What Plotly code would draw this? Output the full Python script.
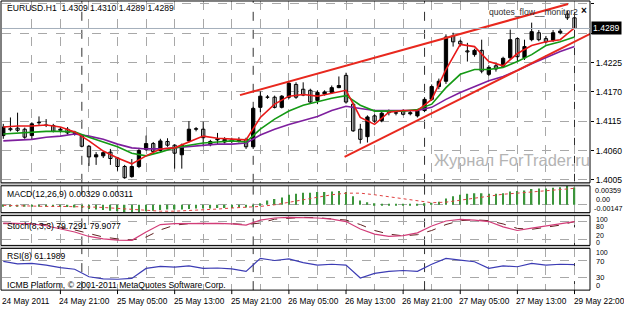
import plotly.graph_objects as go

W, H = 624, 310
FONT = "Liberation Sans, Arial, sans-serif"
FS = 8.6

# ---------------- data ----------------
bar_idx = list(range(81))
opens = [1.4088, 1.4101, 1.4102, 1.4100, 1.4088, 1.4112, 1.4108, 1.4107, 1.4098, 1.4100,
         1.4094, 1.4087, 1.4068, 1.4048, 1.4050, 1.4057, 1.4046, 1.4030, 1.4011, 1.4030,
         1.4062, 1.4073, 1.4060, 1.4077, 1.4070, 1.4052, 1.4078, 1.4100, 1.4100, 1.4071,
         1.4080, 1.4076, 1.4080, 1.4078, 1.4081, 1.4067, 1.4141, 1.4160, 1.4160, 1.4141,
         1.4160, 1.4184, 1.4175, 1.4173, 1.4154, 1.4166, 1.4169, 1.4178, 1.4201, 1.4147,
         1.4100, 1.4086, 1.4125, 1.4116, 1.4131, 1.4131, 1.4135, 1.4129, 1.4125, 1.4135,
         1.4156, 1.4180, 1.4190, 1.4275, 1.4265, 1.4247, 1.4240, 1.4248, 1.4203, 1.4219,
         1.4218, 1.4234, 1.4270, 1.4234, 1.4268, 1.4281, 1.4270, 1.4267, 1.4281, 1.4316,
         1.4309]
highs = [1.4110, 1.4122, 1.4131, 1.4103, 1.4113, 1.4124, 1.4119, 1.4110, 1.4104, 1.4104,
         1.4097, 1.4090, 1.4070, 1.4057, 1.4058, 1.4063, 1.4048, 1.4033, 1.4044, 1.4065,
         1.4088, 1.4076, 1.4082, 1.4083, 1.4072, 1.4073, 1.4115, 1.4104, 1.4114, 1.4080,
         1.4093, 1.4085, 1.4084, 1.4085, 1.4084, 1.4142, 1.4171, 1.4164, 1.4163, 1.4164,
         1.4190, 1.4188, 1.4188, 1.4176, 1.4173, 1.4173, 1.4182, 1.4199, 1.4206, 1.4150,
         1.4110, 1.4126, 1.4128, 1.4135, 1.4137, 1.4136, 1.4137, 1.4135, 1.4137, 1.4160,
         1.4184, 1.4195, 1.4278, 1.4281, 1.4268, 1.4262, 1.4251, 1.4268, 1.4220, 1.4223,
         1.4236, 1.4287, 1.4272, 1.4268, 1.4300, 1.4286, 1.4275, 1.4286, 1.4290, 1.4322,
         1.4310]
lows = [1.4082, 1.4096, 1.4095, 1.4082, 1.4081, 1.4108, 1.4104, 1.4094, 1.4094, 1.4090,
        1.4088, 1.4066, 1.4031, 1.4033, 1.4046, 1.4033, 1.4022, 1.4007, 1.4009, 1.4027,
        1.4059, 1.4055, 1.4057, 1.4067, 1.4026, 1.4026, 1.4075, 1.4096, 1.4068, 1.4068,
        1.4072, 1.4073, 1.4074, 1.4075, 1.4063, 1.4063, 1.4132, 1.4157, 1.4139, 1.4139,
        1.4157, 1.4157, 1.4162, 1.4148, 1.4147, 1.4163, 1.4166, 1.4177, 1.4148, 1.4095,
        1.4073, 1.4075, 1.4112, 1.4113, 1.4126, 1.4126, 1.4126, 1.4126, 1.4122, 1.4132,
        1.4153, 1.4175, 1.4185, 1.4255, 1.4255, 1.4227, 1.4236, 1.4205, 1.4200, 1.4208,
        1.4215, 1.4230, 1.4227, 1.4230, 1.4265, 1.4265, 1.4261, 1.4264, 1.4278, 1.4305,
        1.4289]
closes = [1.4104, 1.4099, 1.4098, 1.4085, 1.4110, 1.4113, 1.4107, 1.4096, 1.4100, 1.4093,
          1.4092, 1.4068, 1.4048, 1.4052, 1.4056, 1.4045, 1.4030, 1.4009, 1.4030, 1.4060,
          1.4073, 1.4058, 1.4078, 1.4070, 1.4055, 1.4070, 1.4100, 1.4101, 1.4084, 1.4077,
          1.4082, 1.4081, 1.4078, 1.4080, 1.4067, 1.4139, 1.4162, 1.4160, 1.4141, 1.4162,
          1.4186, 1.4160, 1.4164, 1.4151, 1.4169, 1.4170, 1.4178, 1.4182, 1.4151, 1.4097,
          1.4081, 1.4123, 1.4115, 1.4130, 1.4132, 1.4130, 1.4128, 1.4131, 1.4134, 1.4156,
          1.4180, 1.4190, 1.4273, 1.4264, 1.4260, 1.4245, 1.4248, 1.4209, 1.4216, 1.4213,
          1.4233, 1.4268, 1.4236, 1.4255, 1.4283, 1.4268, 1.4264, 1.4281, 1.4284, 1.4309,
          1.4289]

ma_idx = list(range(0, 81, 2))
ma_fast = [1.4104, 1.4106, 1.4106, 1.4108, 1.4104, 1.4095, 1.4078, 1.4059, 1.4046, 1.4035,
           1.4050, 1.4063, 1.4065, 1.4076, 1.4087, 1.4083, 1.4081, 1.4080, 1.4122, 1.4147,
           1.4162, 1.4165, 1.4162, 1.4167, 1.4173, 1.4122, 1.4109, 1.4132, 1.4135, 1.4135,
           1.4156, 1.4212, 1.4259, 1.4255, 1.4227, 1.4219, 1.4242, 1.4257, 1.4264, 1.4268,
           1.4290]
ma_mid = [1.4091, 1.4093, 1.4095, 1.4096, 1.4096, 1.4095, 1.4085, 1.4076, 1.4067, 1.4055,
          1.4050, 1.4057, 1.4065, 1.4070, 1.4074, 1.4076, 1.4078, 1.4076, 1.4100, 1.4119,
          1.4134, 1.4145, 1.4152, 1.4158, 1.4163, 1.4145, 1.4134, 1.4134, 1.4134, 1.4137,
          1.4147, 1.4178, 1.4203, 1.4212, 1.4212, 1.4216, 1.4227, 1.4240, 1.4257, 1.4264,
          1.4273]
ma_slow = [1.4078, 1.4080, 1.4081, 1.4085, 1.4087, 1.4091, 1.4087, 1.4081, 1.4072, 1.4065,
           1.4063, 1.4063, 1.4065, 1.4068, 1.4070, 1.4072, 1.4072, 1.4074, 1.4089, 1.4100,
           1.4109, 1.4117, 1.4124, 1.4135, 1.4143, 1.4139, 1.4135, 1.4135, 1.4135, 1.4135,
           1.4141, 1.4156, 1.4169, 1.4180, 1.4191, 1.4199, 1.4210, 1.4223, 1.4234, 1.4246,
           1.4255]

trend_upper_x = [33.15, 79.1]
trend_upper_y = [1.4164, 1.4335]
trend_lower_x = [47.8, 82.2]
trend_lower_y = [1.4048, 1.4279]

macd_main = [-0.0002, -0.0002, -0.0003, -0.0003, -0.0003, -0.0003, -0.0003, -0.0004, -0.0004, -0.0004,
             -0.0005, -0.0006, -0.0008, -0.0009, -0.0010, -0.0011, -0.0012, -0.0014, -0.00147, -0.0014,
             -0.0012, -0.0011, -0.0010, -0.0009, -0.0009, -0.0009, -0.0008, -0.0007, -0.0007, -0.0007,
             -0.0006, -0.0006, -0.0006, -0.0005, -0.0005, -0.0002, 0.0003, 0.0008, 0.0011, 0.0014,
             0.0019, 0.0021, 0.0023, 0.0023, 0.0024, 0.0024, 0.0025, 0.0026, 0.0024, 0.0016,
             0.0008, 0.0005, 0.0003, 0.0002, 0.0002, 0.0002, 0.0002, 0.0002, 0.0002, 0.0003,
             0.0004, 0.0006, 0.0012, 0.0016, 0.0019, 0.0021, 0.0022, 0.0022, 0.0021, 0.0021,
             0.0022, 0.0025, 0.0026, 0.0027, 0.0030, 0.0031, 0.0031, 0.0032, 0.0033, 0.00359,
             0.00329]
macd_signal = [-0.0001, -0.0002, -0.0002, -0.0003, -0.0003, -0.0003, -0.0004, -0.0005, -0.0007, -0.0009,
               -0.0011, -0.0012, -0.0012, -0.0011, -0.0010, -0.0008, -0.0006, -0.0005, -0.0003, 0.0000,
               0.0005, 0.0010, 0.0015, 0.0019, 0.0022, 0.0022, 0.0019, 0.0015, 0.0011, 0.0007,
               0.0004, 0.0005, 0.0009, 0.0013, 0.0017, 0.0020, 0.0022, 0.0024, 0.0026, 0.0029,
               0.00311]

stoch_main = [75, 74, 72, 66, 55, 45, 30, 22, 18, 17, 45, 70, 73, 74, 75, 74, 72, 68, 85, 92,
              94, 94, 92, 88, 80, 55, 38, 30, 33, 42, 65, 82, 87, 85, 80, 62, 50, 58, 65, 72,
              79.7291]
stoch_signal = [73, 74, 73, 70, 62, 52, 40, 28, 22, 18, 28, 52, 68, 73, 74, 74, 73, 70, 75, 88,
                92, 94, 93, 90, 85, 70, 50, 38, 32, 36, 50, 70, 83, 86, 83, 72, 57, 54, 60, 68,
                79.9077]
rsi_vals = [69, 63, 64, 60, 54, 50, 32, 27, 26, 28, 52, 57, 55, 58, 52, 53, 51, 45, 76, 71,
            75, 66, 60, 62, 60, 29, 40, 45, 47, 45, 62, 76, 72, 68, 52, 58, 56, 64, 60, 62,
            61.1989]

time_tick_bars = [0, 8, 16, 24, 32, 40, 48, 56, 64, 72, 80]
time_tick_labels = ["24 May 2011", "24 May 21:00", "25 May 05:00", "25 May 13:00", "25 May 21:00",
                    "26 May 05:00", "26 May 13:00", "26 May 21:00", "27 May 05:00", "27 May 13:00",
                    "29 May 22:00"]
grid_bars = list(range(4, 81, 4))
day_sep_bars = [11, 35, 59, 80]
price_ticks = [1.4005, 1.4060, 1.4115, 1.4170, 1.4225, 1.4280, 1.4335]
price_tick_text = ["1.4005", "1.4060", "1.4115", "1.4170", "1.4225", "", "1.4335"]  # 1.4280 hidden by price box
last_price = 1.4289

# ---------------- layout helpers ----------------
def fx(p):
    return p / W

def fy(p):
    return 1 - p / H

X0, X1 = 2, 590
panels = {"main": (1, 184), "macd": (187, 214), "stoch": (217, 247), "rsi": (250, 292)}

fig = go.Figure()

# candles: wicks
wx, wy = [], []
for i, h, l in zip(bar_idx, highs, lows):
    wx += [i, i, None]
    wy += [l, h, None]
fig.add_trace(go.Scatter(x=wx, y=wy, mode="lines", line=dict(color="black", width=1),
                         hoverinfo="skip", showlegend=False))
# bodies
for bull in (True, False):
    xs, bases, hs = [], [], []
    for i, o, c in zip(bar_idx, opens, closes):
        if (c >= o) == bull:
            xs.append(i)
            bases.append(min(o, c))
            hs.append(max(abs(c - o), 0.00003))
    fig.add_trace(go.Bar(x=xs, y=hs, base=bases, width=0.46,
                         marker=dict(color="black" if bull else "white",
                                     line=dict(color="black", width=1)),
                         showlegend=False, hoverinfo="skip"))

# moving averages
for vals, col in ((ma_slow, "#7e1f9e"), (ma_mid, "#159a15"), (ma_fast, "#e81818")):
    fig.add_trace(go.Scatter(x=ma_idx, y=vals, mode="lines", line=dict(color=col, width=1.6),
                             showlegend=False, hoverinfo="skip"))

# trend lines
for tx, ty in ((trend_upper_x, trend_upper_y), (trend_lower_x, trend_lower_y)):
    fig.add_trace(go.Scatter(x=tx, y=ty, mode="lines", line=dict(color="#e8281e", width=2),
                             showlegend=False, hoverinfo="skip"))

# MACD
fig.add_trace(go.Bar(x=bar_idx, y=macd_main, width=0.2, yaxis="y2",
                     marker=dict(color="#3c953c", line=dict(width=0)),
                     showlegend=False, hoverinfo="skip"))
fig.add_trace(go.Scatter(x=ma_idx, y=macd_signal, yaxis="y2", mode="lines",
                         line=dict(color="#e04040", width=1, dash="dot"),
                         showlegend=False, hoverinfo="skip"))

# Stochastic
fig.add_trace(go.Scatter(x=ma_idx, y=stoch_signal, yaxis="y3", mode="lines",
                         line=dict(color="#602020", width=1, dash="dash"),
                         showlegend=False, hoverinfo="skip"))
fig.add_trace(go.Scatter(x=ma_idx, y=stoch_main, yaxis="y3", mode="lines",
                         line=dict(color="#d23c78", width=1.2),
                         showlegend=False, hoverinfo="skip"))

# RSI
fig.add_trace(go.Scatter(x=ma_idx, y=rsi_vals, yaxis="y4", mode="lines",
                         line=dict(color="#3c3cb4", width=1.2),
                         showlegend=False, hoverinfo="skip"))

def dom(name):
    t, b = panels[name]
    return [fy(b), fy(t)]

axis_common = dict(anchor="x", side="right", showline=False, zeroline=False,
                   showticklabels=False, ticks="")
fig.update_layout(
    width=W, height=H, margin=dict(l=0, r=0, t=0, b=0),
    paper_bgcolor="white", plot_bgcolor="white", barmode="overlay", showlegend=False,
    xaxis=dict(domain=[fx(X0), fx(X1)], range=[-0.18, 82.17], showticklabels=False,
               ticks="", tickvals=grid_bars, showgrid=True, gridcolor="#a8a8a8",
               griddash="dash", gridwidth=1, zeroline=False, showline=False),
    yaxis=dict(domain=dom("main"), range=[1.39994, 1.43406], anchor="x", side="right",
               tickvals=price_ticks, ticktext=price_tick_text,
               showgrid=True, gridcolor="#a8a8a8", griddash="dash", gridwidth=1,
               ticks="outside", ticklen=3, tickcolor="black", zeroline=False,
               tickfont=dict(family=FONT, size=FS, color="black"), showline=False),
    yaxis2=dict(domain=dom("macd"), range=[-0.00147, 0.00359], tickvals=[0],
                showgrid=True, gridcolor="#a8a8a8", griddash="dash", **axis_common),
    yaxis3=dict(domain=dom("stoch"), range=[0, 100], tickvals=[20, 80],
                showgrid=True, gridcolor="#a8a8a8", griddash="dash", **axis_common),
    yaxis4=dict(domain=dom("rsi"), range=[0, 100], tickvals=[30, 70],
                showgrid=True, gridcolor="#a8a8a8", griddash="dash", **axis_common),
)

shapes = []
# day separators
for b in day_sep_bars:
    for name in panels:
        t, bt = panels[name]
        shapes.append(dict(type="line", xref="x", yref="paper", x0=b, x1=b, y0=fy(bt), y1=fy(t),
                           line=dict(color="#303030", width=1, dash="dash"), layer="below"))
# separator bands & frames
for a, b in (("main", "macd"), ("macd", "stoch"), ("stoch", "rsi")):
    shapes.append(dict(type="rect", xref="paper", yref="paper", x0=0, x1=fx(X1),
                       y0=fy(panels[b][0]), y1=fy(panels[a][1]),
                       fillcolor="#c8c8c8", line=dict(width=0)))
for name, (t, b) in panels.items():
    shapes.append(dict(type="rect", xref="paper", yref="paper", x0=fx(1), x1=fx(X1),
                       y0=fy(b), y1=fy(t), line=dict(color="black", width=1)))
# bid line
shapes.append(dict(type="line", xref="paper", yref="y", x0=fx(X0), x1=fx(X1),
                   y0=last_price, y1=last_price, line=dict(color="#a4b0bc", width=1)))
# right-axis tick mark for the hidden 1.4280 level is kept by the axis; bottom time ticks
for b in time_tick_bars[1:]:
    shapes.append(dict(type="line", xref="x", yref="paper", x0=b, x1=b, y0=fy(296), y1=fy(292),
                       line=dict(color="black", width=1)))
fig.update_layout(shapes=shapes)

ann = []
def text(x, y, s, size=FS, color="black", anchor="left", family=FONT, **kw):
    ann.append(dict(x=fx(x), y=fy(y), xref="paper", yref="paper", text=s, showarrow=False,
                    xanchor=anchor, yanchor="middle", font=dict(family=family, size=size, color=color), **kw))

text(5, 8, "EURUSD.H1&nbsp;&nbsp;1.4309 1.4310 1.4289 1.4289")
text(487, 12, "quotes_flow__monitor2", color="#303030")
text(579, 11, "<b>×</b>", size=10)
text(5, 195, "MACD(12,26,9) 0.00329 0.00311")
text(5, 227, "Stoch(8,3,3) 79.7291 79.9077")
text(5, 258, "RSI(8) 61.1989")
text(5, 287, "ICMB Platform, © 2001-2011 MetaQuotes Software Corp.")
text(432, 161, "Журнал ForTrader.ru", size=16.5, color="#b4b4b4")

# sub-window scale labels (compact so they stay legible)
for x, y, s, fs in ((593, 192, "0.00359", 7.2), (594, 201, "0.00", 7.2), (592, 209.5, "-0.00147", 7.2),
                    (594, 220.5, "100", 7.0), (594, 227.5, "80", 7.0),
                    (594, 237.5, "20", 7.0), (594, 244, "0", 7.0),
                    (594, 254.5, "100", 7.0), (594, 263, "70", 7.5), (594, 279, "30", 7.5),
                    (594, 287.5, "0", 7.5)):
    text(x, y, s, size=fs)

# time labels
for b, s in zip(time_tick_bars, time_tick_labels):
    ann.append(dict(x=b, y=fy(303), xref="x", yref="paper", text=s, showarrow=False,
                    xanchor="left", yanchor="middle", xshift=-3,
                    font=dict(family=FONT, size=8.3, color="black")))

# last price box
ann.append(dict(x=fx(591), y=last_price, xref="paper", yref="y", text="1.4289", showarrow=False,
                xanchor="left", yanchor="middle", bgcolor="black", borderpad=1,
                font=dict(family=FONT, size=FS, color="white")))
fig.update_layout(annotations=ann)

fig.write_html("out.html")
